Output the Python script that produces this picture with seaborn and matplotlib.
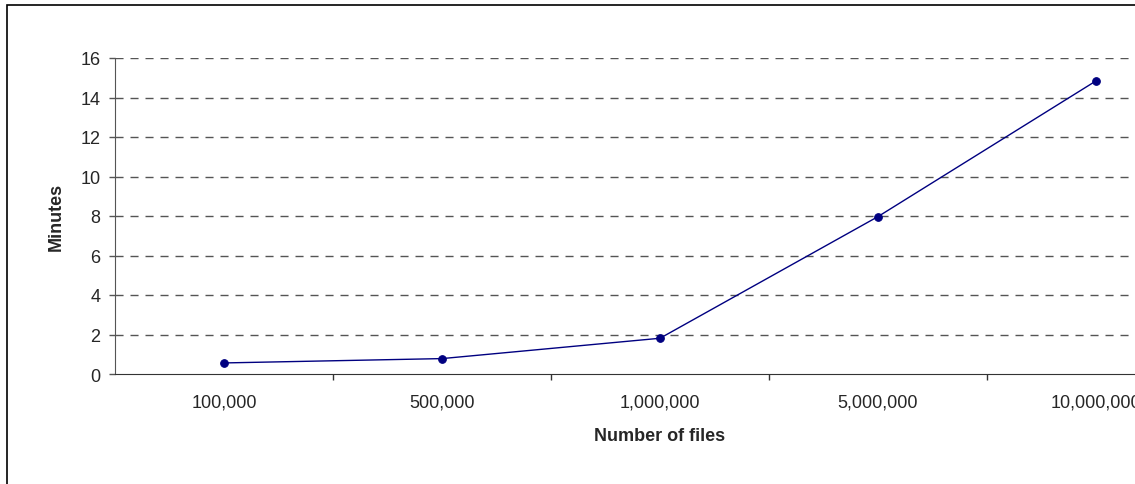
import pandas as pd
import matplotlib.pyplot as plt
import numpy as np
import seaborn as sns
from matplotlib.patches import Rectangle

# data
file_counts = ['100,000', '500,000', '1,000,000', '5,000,000', '10,000,000']
minutes = [0.56, 0.78, 1.81, 7.97, 14.84]

df = pd.DataFrame({'pos': np.arange(len(file_counts)), 'minutes': minutes})

sns.set_style('white')
plt.rcParams['font.family'] = ['Liberation Sans', 'DejaVu Sans']

fig = plt.figure(figsize=(11.35, 4.85), dpi=100)
ax = fig.add_axes([115/1135, 1-375/485, 1090/1135, 316/485])

# outer chart border (the original chart is cropped on the right/bottom)
fig.patches.append(Rectangle((7/1135, -0.1), 1.2, 1.1-6/485, transform=fig.transFigure,
                             fill=False, edgecolor='black', linewidth=1.2, clip_on=False))

for y in range(2, 17, 2):
    ax.axhline(y, color='#555555', linewidth=1, dashes=(5.8, 5), zorder=0)

sns.lineplot(data=df, x='pos', y='minutes', ax=ax, color='#000080', linewidth=1,
             marker='o', markersize=5.5, markeredgecolor='#000080')

ax.set_xlim(-0.5, len(file_counts) - 0.5)
ax.set_ylim(0, 16)
ax.set_yticks(range(0, 17, 2))

# ticks between categories, labels centred under the points
ax.set_xticks(np.arange(0.5, len(file_counts) - 0.5, 1))
ax.set_xticklabels([])
ax.set_xticks(np.arange(len(file_counts)), minor=True)
ax.set_xticklabels(file_counts, minor=True)
ax.tick_params(axis='x', which='major', direction='out', length=4, width=1, color='#333333', bottom=True)
ax.tick_params(axis='x', which='minor', length=0, pad=14, labelsize=13)
ax.tick_params(axis='y', direction='out', length=4.5, width=1, color='#555555', left=True, pad=6, labelsize=13)

for side in ['top', 'right']:
    ax.spines[side].set_visible(False)
ax.spines['left'].set_color('#555555')
ax.spines['bottom'].set_color('#333333')

ax.set_xlabel('Number of files', fontsize=13, fontweight='bold')
ax.set_ylabel('Minutes', fontsize=13, fontweight='bold')
ax.xaxis.set_label_coords(0.5, -0.168)
ax.yaxis.set_label_coords(-0.046, 0.5)

fig.savefig('out.png', dpi=100)
